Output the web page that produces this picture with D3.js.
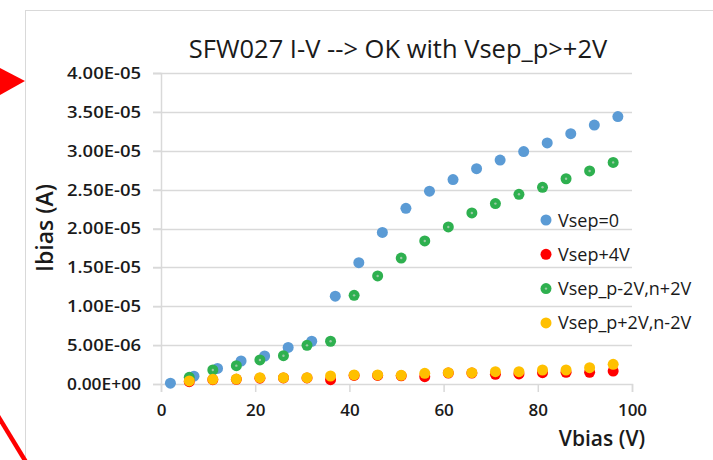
<!DOCTYPE html>
<html>
<head>
<meta charset="utf-8">
<script src="https://cdn.jsdelivr.net/npm/d3@7"></script>
<style>
  body { margin: 0; background: #fff; }
  svg { display: block; font-family: "Open Sans", sans-serif; }
</style>
</head>
<body>
<svg width="713" height="460"></svg>
<script>
// chart values (Ibias in A, Vbias in V)
const seriesNames = ["Vsep=0", "Vsep+4V", "Vsep_p-2V,n+2V", "Vsep_p+2V,n-2V"];
const seriesColors = ["#5b9bd5", "#ff0000", "#2eb04f", "#ffc000"];

const vBlue = [2, 7, 12, 17, 22, 27, 32, 37, 42, 47, 52, 57, 62, 67, 72, 77, 82, 87, 92, 97];
const iBlue = [0.1e-6, 1.0e-6, 2.0e-6, 2.96e-6, 3.6e-6, 4.7e-6, 5.5e-6, 11.3e-6, 15.6e-6, 19.5e-6,
               22.6e-6, 24.8e-6, 26.3e-6, 27.7e-6, 28.8e-6, 29.9e-6, 31.0e-6, 32.2e-6, 33.3e-6, 34.4e-6];

const vOther = [6, 11, 16, 21, 26, 31, 36, 41, 46, 51, 56, 61, 66, 71, 76, 81, 86, 91, 96];
const iRed = [0.3e-6, 0.55e-6, 0.6e-6, 0.75e-6, 0.78e-6, 0.78e-6, 0.55e-6, 1.1e-6, 1.1e-6, 1.05e-6,
              0.94e-6, 1.4e-6, 1.4e-6, 1.24e-6, 1.3e-6, 1.45e-6, 1.5e-6, 1.5e-6, 1.67e-6];
const iGreen = [0.86e-6, 1.8e-6, 2.36e-6, 3.09e-6, 3.64e-6, 4.97e-6, 5.5e-6, 11.4e-6, 13.9e-6, 16.2e-6,
                18.4e-6, 20.2e-6, 22.0e-6, 23.2e-6, 24.4e-6, 25.3e-6, 26.4e-6, 27.4e-6, 28.5e-6];
const iYellow = [0.39e-6, 0.6e-6, 0.64e-6, 0.81e-6, 0.81e-6, 0.81e-6, 1.03e-6, 1.16e-6, 1.16e-6, 1.12e-6,
                 1.37e-6, 1.45e-6, 1.45e-6, 1.58e-6, 1.58e-6, 1.8e-6, 1.8e-6, 2.1e-6, 2.53e-6];

const xTicks = [0, 20, 40, 60, 80, 100];
const yTicks = [0, 5e-6, 1e-5, 1.5e-5, 2e-5, 2.5e-5, 3e-5, 3.5e-5, 4e-5];

const svg = d3.select("svg");

// chart frame (cut off at right and bottom, like the screenshot)
svg.append("rect")
  .attr("x", 25.5).attr("y", 10.5)
  .attr("width", 800).attr("height", 600)
  .attr("fill", "#fff")
  .attr("stroke", "#d9d9d9");

// red annotation marks outside the chart
svg.append("path")
  .attr("d", "M0,68 L25,81 L0,95 Z")
  .attr("fill", "#f00");
svg.append("line")
  .attr("x1", -2).attr("y1", 416).attr("x2", 26).attr("y2", 462)
  .attr("stroke", "#f00").attr("stroke-width", 4.5);

const x = d3.scaleLinear().domain([0, 100]).range([161, 632]);
const y = d3.scaleLinear().domain([0, 4e-5]).range([384, 73]);

function sci(d) {
  if (d === 0) return "0.00E+00";
  const e = Math.floor(Math.log10(d) + 1e-9);
  const m = d / Math.pow(10, e);
  return m.toFixed(2) + "E" + (e < 0 ? "-" : "+") + String(Math.abs(e)).padStart(2, "0");
}

// gridlines
svg.append("g")
  .selectAll("line")
  .data(yTicks.filter(d => d > 0))
  .join("line")
  .attr("x1", 153).attr("x2", 632)
  .attr("y1", d => Math.round(y(d)) + 0.5).attr("y2", d => Math.round(y(d)) + 0.5)
  .attr("stroke", "#d9d9d9").attr("stroke-width", 1.5);

// y axis
const yAxis = svg.append("g")
  .attr("transform", "translate(161,0)")
  .call(d3.axisLeft(y).tickValues(yTicks).tickFormat(sci).tickSize(8).tickPadding(12));
yAxis.select(".domain").attr("stroke", "#d9d9d9").attr("stroke-width", 1.5);
yAxis.selectAll(".tick line").attr("stroke", "#d9d9d9").attr("stroke-width", 1.5);
yAxis.selectAll("text")
  .attr("fill", "#1a1a1a")
  .style("font-size", "17px")
  .style("font-weight", "600")
  .style("font-family", "'Open Sans', sans-serif")
  .attr("textLength", 74)
  .attr("lengthAdjust", "spacingAndGlyphs");

// x axis
const xAxis = svg.append("g")
  .attr("transform", "translate(0,384)")
  .call(d3.axisBottom(x).tickValues(xTicks).tickSize(8).tickPadding(12));
xAxis.select(".domain").attr("stroke", "#d9d9d9").attr("stroke-width", 1.5);
xAxis.selectAll(".tick line").attr("stroke", "#d9d9d9").attr("stroke-width", 1.5);
xAxis.selectAll("text")
  .attr("fill", "#1a1a1a")
  .style("font-size", "17px")
  .style("font-weight", "600")
  .style("font-family", "'Open Sans', sans-serif");

// series, drawn in the stacking order of the picture
const series = [
  { name: seriesNames[0], color: seriesColors[0], v: vBlue, i: iBlue, order: 0 },
  { name: seriesNames[1], color: seriesColors[1], v: vOther, i: iRed, order: 1 },
  { name: seriesNames[2], color: seriesColors[2], v: vOther, i: iGreen, order: 2 },
  { name: seriesNames[3], color: seriesColors[3], v: vOther, i: iYellow, order: 3 }
];

series.forEach(s => {
  const pts = s.v.map((v, k) => ({ v, i: s.i[k] }));
  const g = svg.append("g");
  g.selectAll("circle")
    .data(pts)
    .join("circle")
    .attr("cx", d => x(d.v))
    .attr("cy", d => y(d.i))
    .attr("r", 5.5)
    .attr("fill", s.color);
  if (s.order === 2) {
    g.selectAll("circle.c")
      .data(pts)
      .join("circle")
      .attr("class", "c")
      .attr("cx", d => x(d.v))
      .attr("cy", d => y(d.i))
      .attr("r", 1.2)
      .attr("fill", "#9cc9a6");
  }
});

// legend
const legend = svg.append("g").attr("transform", "translate(546,220)");
series.forEach((s, k) => {
  const row = legend.append("g").attr("transform", `translate(0,${k * 34.3})`);
  row.append("circle").attr("r", 5.5).attr("fill", s.color);
  if (s.order === 2) row.append("circle").attr("r", 1.2).attr("fill", "#9cc9a6");
  row.append("text")
    .attr("x", 12).attr("y", 6.5)
    .attr("fill", "#1a1a1a")
    .style("font-size", "18px")
    .text(s.name);
});

// title and axis titles
svg.append("text")
  .attr("x", 398).attr("y", 58)
  .attr("text-anchor", "middle")
  .attr("fill", "#1a1a1a")
  .style("font-size", "25.5px")
  .text("SFW027 I-V --> OK with Vsep_p>+2V");

svg.append("text")
  .attr("x", 602).attr("y", 446)
  .attr("text-anchor", "middle")
  .attr("fill", "#1a1a1a")
  .style("font-size", "21px")
  .style("font-weight", "600")
  .text("Vbias (V)");

svg.append("text")
  .attr("transform", "translate(53,228) rotate(-90)")
  .attr("text-anchor", "middle")
  .attr("fill", "#1a1a1a")
  .style("font-size", "23px")
  .style("font-weight", "600")
  .text("Ibias (A)");
</script>
</body>
</html>
